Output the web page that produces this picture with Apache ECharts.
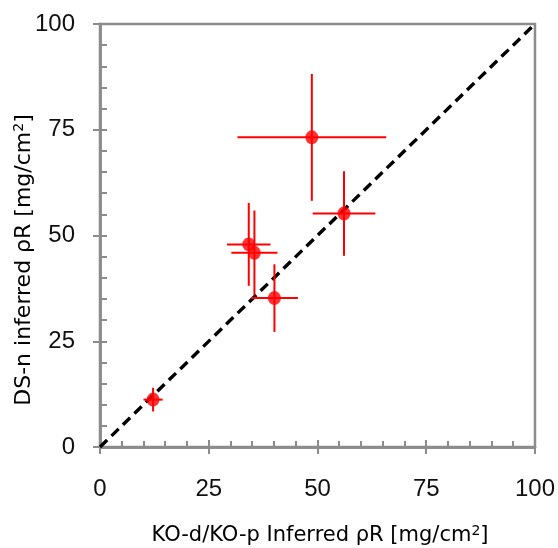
<!DOCTYPE html>
<html>
<head>
<meta charset="utf-8">
<script src="https://cdn.jsdelivr.net/npm/echarts@6/dist/echarts.min.js"></script>
<style>
html,body{margin:0;padding:0;background:#fff;}
#c{width:558px;height:548px;}
</style>
</head>
<body>
<div id="c"></div>
<script>
// Data
var xVals = [48.7, 56.1, 34.2, 35.5, 40.1, 12.2];
var yVals = [73.2, 55.2, 47.9, 45.9, 35.2, 11.2];
var xErr  = [17.1, 7.2, 5.0, 5.3, 5.4, 2.2];
var yErr  = [15.0, 10.0, 9.8, 10.0, 8.0, 2.8];
var diagX = [0, 100];
var diagY = [0, 100];
var tickMin = 0, tickMax = 100, tickStep = 25;

var TICK_FONT = 'Liberation Sans';
var TITLE_FONT = 'DejaVu Sans';
var AXIS_COLOR = '#8c8c8c';

var points = xVals.map(function (x, i) { return [x, yVals[i]]; });
var errData = xVals.map(function (x, i) {
  return [x, yVals[i], x - xErr[i], x + xErr[i], yVals[i] - yErr[i], yVals[i] + yErr[i]];
});

var chart = echarts.init(document.getElementById('c'), null, {renderer: 'canvas'});

function mkX(outer) {
  return {
    type: 'value', position: 'bottom', min: tickMin, max: tickMax, interval: tickStep,
    axisLine: {show: true, onZero: false, lineStyle: {color: AXIS_COLOR, width: 2.5}},
    axisTick: {show: true, inside: !outer, length: 7, lineStyle: {color: AXIS_COLOR, width: 2}},
    minorTick: {show: !outer, splitNumber: 5, length: 6, lineStyle: {color: AXIS_COLOR, width: 2}},
    axisLabel: {show: outer, margin: 30, color: '#111', fontSize: 24, fontFamily: TICK_FONT},
    splitLine: {show: false}
  };
}
function mkY(outer) {
  return {
    type: 'value', position: 'left', min: tickMin, max: tickMax, interval: tickStep,
    axisLine: {show: true, onZero: false, lineStyle: {color: AXIS_COLOR, width: 2.5}},
    axisTick: {show: true, inside: !outer, length: 7, lineStyle: {color: AXIS_COLOR, width: 2}},
    minorTick: {show: !outer, splitNumber: 5, length: 7, lineStyle: {color: AXIS_COLOR, width: 2}},
    axisLabel: {show: outer, margin: 25, color: '#111', fontSize: 24, fontFamily: TICK_FONT},
    splitLine: {show: false}
  };
}

function rich(size) {
  return {
    n: {fontSize: size, fontFamily: TITLE_FONT, color: '#111'},
    s: {fontSize: Math.round(size * 0.65), fontFamily: TITLE_FONT, color: '#111', verticalAlign: 'bottom', padding: [0, 0, Math.round(size * 0.45), 0]}
  };
}

chart.setOption({
  animation: false,
  backgroundColor: '#fff',
  grid: {left: 100, right: 23, top: 24, bottom: 101, show: true, borderColor: AXIS_COLOR, borderWidth: 2.5, backgroundColor: 'transparent'},
  xAxis: [mkX(true), mkX(false)],
  yAxis: [mkY(true), mkY(false)],
  graphic: [
    {type: 'text', x: 320, y: 536, style: {text: '{n|KO-d/KO-p Inferred ρR [mg/cm}{s|2}{n|]}', rich: rich(21), align: 'center', verticalAlign: 'middle'}},
    {type: 'text', x: 24, y: 260, rotation: Math.PI / 2, style: {text: '{n|DS-n inferred ρR [mg/cm}{s|2}{n|]}', rich: rich(22), align: 'center', verticalAlign: 'middle'}}
  ],
  series: [
    {
      type: 'line', xAxisIndex: 0, yAxisIndex: 0,
      data: diagX.map(function (x, i) { return [x, diagY[i]]; }),
      symbol: 'none', z: 2,
      lineStyle: {color: '#000', width: 3.4, type: [10, 6]}
    },
    {
      type: 'custom', xAxisIndex: 0, yAxisIndex: 0, z: 3,
      data: errData,
      renderItem: function (params, api) {
        var xl = api.coord([api.value(2), api.value(1)]);
        var xh = api.coord([api.value(3), api.value(1)]);
        var yl = api.coord([api.value(0), api.value(4)]);
        var yh = api.coord([api.value(0), api.value(5)]);
        var st = {stroke: '#ff0000', lineWidth: 2};
        return {
          type: 'group',
          children: [
            {type: 'line', shape: {x1: xl[0], y1: xl[1], x2: xh[0], y2: xh[1]}, style: st},
            {type: 'line', shape: {x1: yl[0], y1: yl[1], x2: yh[0], y2: yh[1]}, style: st}
          ]
        };
      }
    },
    {
      type: 'scatter', xAxisIndex: 0, yAxisIndex: 0, z: 4,
      data: points, symbol: 'circle', symbolSize: [13, 14],
      itemStyle: {color: '#ff0000'}
    }
  ]
});
</script>
</body>
</html>
